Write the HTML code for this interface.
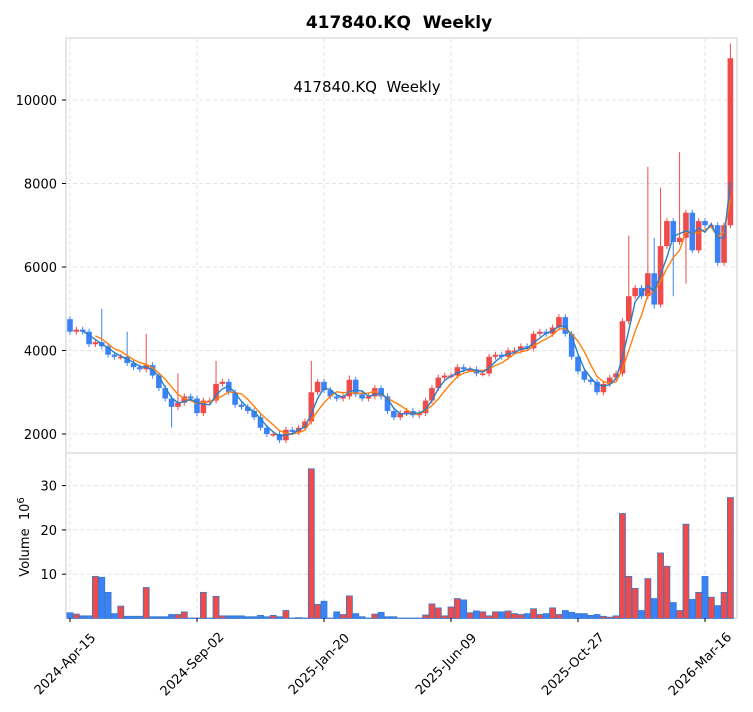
<!DOCTYPE html>
<html><head><meta charset="utf-8"><style>
html,body{margin:0;padding:0;background:#fff;}
svg{display:block;font-family:"DejaVu Sans","Liberation Sans",sans-serif;}
</style></head><body>
<svg id="c" width="753" height="712" xmlns="http://www.w3.org/2000/svg"></svg>
<script>
const closes=[4450,4500,4450,4150,4200,4100,3900,3850,3850,3700,3600,3550,3650,3400,3100,2850,2650,2750,2900,2850,2500,2800,2800,3200,3250,3000,2700,2650,2550,2400,2150,2000,2000,1850,2100,2050,2150,2300,3000,3250,3050,2900,2850,2900,3300,2950,2850,2900,3100,2900,2550,2400,2500,2550,2450,2500,2800,3100,3350,3400,3400,3600,3550,3550,3450,3450,3850,3900,3850,4000,4000,4100,4050,4400,4450,4400,4550,4800,4400,3850,3500,3300,3250,3000,3200,3350,3450,4700,5300,5500,5300,5850,5100,6500,7100,6600,6700,7300,6400,7100,7000,7000,6100,7000,11000];
const vols=[1.3,1.0,0.6,0.6,9.5,9.3,5.9,1.1,2.8,0.5,0.5,0.5,7.0,0.4,0.4,0.4,0.9,0.9,1.5,0.1,0.1,5.9,0.1,5.0,0.6,0.6,0.6,0.6,0.4,0.4,0.7,0.4,0.7,0.4,1.8,0.1,0.2,0.1,33.8,3.2,3.9,0.1,1.5,0.9,5.1,1.1,0.4,0.1,1.0,1.4,0.4,0.4,0.1,0.1,0.1,0.1,0.8,3.3,2.4,0.6,2.6,4.5,4.2,1.3,1.7,1.5,0.6,1.5,1.5,1.7,1.1,0.9,1.1,2.2,0.9,1.1,2.4,0.9,1.8,1.4,1.1,1.1,0.7,0.9,0.5,0.3,0.6,23.7,9.5,6.8,1.8,9.0,4.5,14.8,11.8,3.6,1.8,21.3,4.3,5.9,9.5,4.8,2.9,5.9,27.3];
const hiO={5:5000,9:4450,12:4400,17:3450,23:3750,38:3750,44:3400,88:6750,91:8400,92:6700,93:7900,96:8750,104:11350};
const loO={16:2150,95:5300,97:5600,92:5000};
const RED="#ef4b4b",BLUE="#3b82f6";
const px=i=>70+6.35*i, py=p=>434-(p-2000)*83.5/2000, vy=v=>618.5-v*4.43;
let s='';
s+='<rect x="66" y="38" width="671" height="580" fill="none" stroke="#cccccc"/>';
s+='<line x1="66" y1="453" x2="737" y2="453" stroke="#cccccc"/>';
const xt=[[0,"2024-Apr-15"],[20,"2024-Sep-02"],[40,"2025-Jan-20"],[60,"2025-Jun-09"],[80,"2025-Oct-27"],[100,"2026-Mar-16"]];
xt.forEach(([i])=>{const x=px(i);s+=`<line x1="${x}" y1="38" x2="${x}" y2="618" stroke="#e3e3e3" stroke-dasharray="4,3"/>`;});
[2000,4000,6000,8000,10000].forEach(p=>{const y=py(p);s+=`<line x1="66" y1="${y}" x2="737" y2="${y}" stroke="#e3e3e3" stroke-dasharray="4,3"/><line x1="62" y1="${y}" x2="66" y2="${y}" stroke="#000"/><text x="57" y="${y+5}" font-size="13" text-anchor="end">${p}</text>`;});
[10,20,30].forEach(v=>{const y=vy(v);s+=`<line x1="66" y1="${y}" x2="737" y2="${y}" stroke="#e3e3e3" stroke-dasharray="4,3"/><line x1="62" y1="${y}" x2="66" y2="${y}" stroke="#000"/><text x="57" y="${y+5}" font-size="13" text-anchor="end">${v}</text>`;});
closes.forEach((c,i)=>{const o=i?closes[i-1]:4750;const up=c>=o;const col=up?RED:BLUE;
 const hi=hiO[i]||Math.max(o,c)+70, lo=loO[i]||Math.min(o,c)-70;const x=px(i);
 s+=`<line x1="${x}" y1="${py(hi)}" x2="${x}" y2="${py(lo)}" stroke="${col}" stroke-width="1"/>`;
 const t=py(Math.max(o,c)),b=py(Math.min(o,c));
 s+=`<rect x="${x-2.8}" y="${t}" width="5.6" height="${Math.max(1.5,b-t)}" fill="${col}"/>`;
 const vt=vy(vols[i]);s+=`<rect x="${x-3}" y="${vt}" width="6" height="${618.5-vt}" fill="${col}" stroke="#3a7bc8" stroke-width="0.8"/>`;});
function ma(n,col){let d='';for(let i=n-1;i<closes.length;i++){let a=0;for(let k=0;k<n;k++)a+=closes[i-k];d+=(d?'L':'M')+px(i).toFixed(1)+','+py(a/n).toFixed(1);}s+=`<path d="${d}" fill="none" stroke="${col}" stroke-width="1.4"/>`;}
ma(5,"#ff7f0e");ma(3,"#2a7fc4");
xt.forEach(([i,l])=>{const x=px(i);s+=`<line x1="${x}" y1="618" x2="${x}" y2="622" stroke="#000"/><text x="${x-2}" y="667" font-size="13" text-anchor="middle" transform="rotate(-45 ${x-2} 667)">${l}</text>`;});
s+='<text x="399" y="28" font-size="17" font-weight="bold" text-anchor="middle" xml:space="preserve">417840.KQ  Weekly</text>';
s+='<text x="367" y="92" font-size="15" text-anchor="middle" xml:space="preserve">417840.KQ  Weekly</text>';
s+='<text transform="translate(29 537) rotate(-90)" font-size="13" text-anchor="middle" xml:space="preserve">Volume  10<tspan dy="-5" font-size="10">6</tspan></text>';
document.getElementById('c').innerHTML=s;
</script>
</body></html>
